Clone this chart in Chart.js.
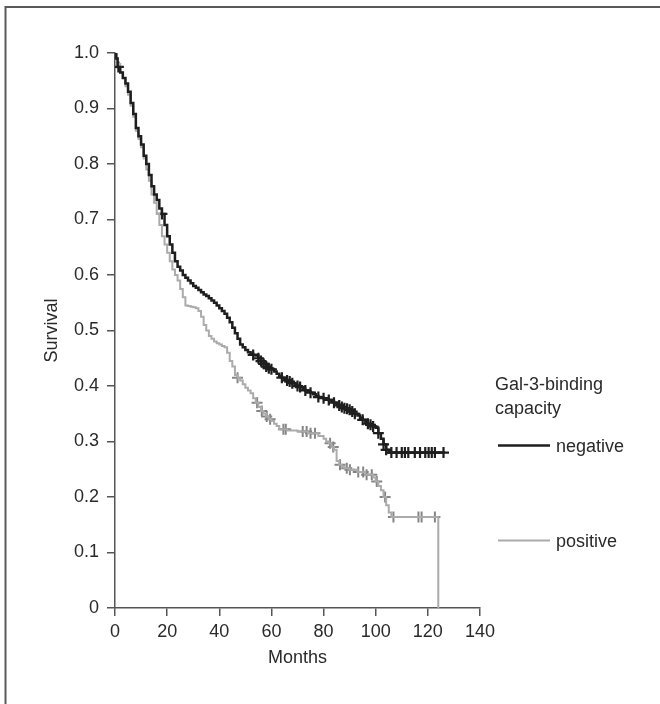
<!DOCTYPE html>
<html><head><meta charset="utf-8">
<script src="https://cdn.jsdelivr.net/npm/chart.js@4"></script>
<style>html,body{margin:0;padding:0;background:#fff}#wrap{position:relative;width:660px;height:704px}</style>
</head><body><div id="wrap"><canvas id="c" width="660" height="704"></canvas></div>
<script>
// ---- data ----
const xTickValues = [0, 20, 40, 60, 80, 100, 120, 140];
const yTickLabels = ['0', '0.1', '0.2', '0.3', '0.4', '0.5', '0.6', '0.7', '0.8', '0.9', '1.0'];
const seriesNames = ['negative', 'positive'];
const legendTitle = ['Gal-3-binding', 'capacity'];

const negMonths = [0, 0.5, 1, 2, 3, 4, 5, 6, 7, 8, 9, 10, 11, 12, 13, 14, 15, 16, 17, 18, 19, 20, 21, 22, 23, 24, 25,
  26, 27, 28, 29, 30, 31, 32, 33, 34, 35, 36, 37, 38, 39, 40, 41, 42, 43, 44, 45, 46, 47, 48, 49, 50,
  51, 52, 53, 54, 55, 56, 57, 58, 59, 60, 61, 62, 63, 64, 65, 66, 67, 68, 69, 70, 71, 72, 73, 74, 75,
  76, 77, 78, 79, 80, 81, 82, 83, 84, 85, 86, 87, 88, 89, 90, 91, 92, 93, 94, 95, 96, 97, 98, 99, 100,
  101, 102, 103, 104, 105, 126.5];
const negSurv = [1.0, 0.99, 0.975, 0.965, 0.955, 0.945, 0.93, 0.91, 0.89, 0.865, 0.85, 0.835, 0.815, 0.80, 0.78, 0.76, 0.745, 0.735, 0.72, 0.71, 0.69, 0.67, 0.655, 0.64, 0.625, 0.615, 0.608,
  0.60, 0.595, 0.59, 0.585, 0.58, 0.577, 0.573, 0.569, 0.565, 0.562, 0.558, 0.554, 0.55, 0.545, 0.54, 0.535, 0.53, 0.523, 0.515, 0.505, 0.495, 0.485, 0.475, 0.47, 0.465,
  0.461, 0.458, 0.456, 0.455, 0.45, 0.445, 0.44, 0.435, 0.432, 0.43, 0.426, 0.422, 0.418, 0.415, 0.412, 0.41, 0.408, 0.405, 0.402, 0.40, 0.398, 0.395, 0.392, 0.39, 0.388,
  0.385, 0.382, 0.38, 0.379, 0.378, 0.376, 0.375, 0.372, 0.37, 0.367, 0.365, 0.362, 0.36, 0.359, 0.357, 0.354, 0.35, 0.347, 0.343, 0.339, 0.335, 0.332, 0.33, 0.327, 0.325,
  0.315, 0.305, 0.295, 0.285, 0.28, 0.28];

const posMonths = [0, 0.5, 1, 2, 3, 4, 5, 6, 7, 8, 9, 10, 11, 12, 13, 14, 15, 16, 17, 18, 19, 20, 21, 22, 23, 24, 25, 26,
  27, 28, 29, 30, 31, 32, 33, 34, 35, 36, 37, 38, 39, 40, 41, 42, 43, 44, 45, 46, 47, 48, 49, 50,
  51, 52, 53, 54, 55, 56, 57, 58, 59, 60, 61, 62, 63, 66, 70, 74, 78, 80, 81, 82, 83, 84, 85, 86, 87, 88,
  90, 93, 96, 99, 100, 101, 102, 103, 104, 105, 106, 124];
const posSurv = [1.0, 0.99, 0.98, 0.965, 0.955, 0.94, 0.925, 0.905, 0.885, 0.86, 0.845, 0.83, 0.81, 0.79, 0.77, 0.745, 0.73, 0.71, 0.69, 0.67, 0.655, 0.64, 0.625, 0.61, 0.60, 0.59, 0.575, 0.56,
  0.545, 0.544, 0.543, 0.542, 0.54, 0.535, 0.525, 0.51, 0.50, 0.49, 0.485, 0.48, 0.477, 0.475, 0.472, 0.47, 0.46, 0.445, 0.435, 0.42, 0.415, 0.41, 0.403, 0.397,
  0.392, 0.387, 0.378, 0.37, 0.362, 0.355, 0.35, 0.345, 0.34, 0.337, 0.332, 0.328, 0.322, 0.32, 0.318, 0.315, 0.31, 0.305, 0.30, 0.297, 0.29, 0.285, 0.265, 0.258, 0.255, 0.252,
  0.249, 0.245, 0.24, 0.235, 0.228, 0.22, 0.212, 0.20, 0.185, 0.172, 0.164, 0];

const negCensorMonths = [1.3, 18, 53, 55, 56, 57, 58, 59, 60, 64, 66, 67, 68, 70, 71, 73, 75, 78, 80, 82, 84, 86, 87, 88, 89, 90, 91, 92, 95, 97, 98, 99, 101, 103, 104, 106, 108, 110, 111.2, 112.5, 115, 117, 119, 120.3, 121.5, 122.7, 126];
const posCensorMonths = [47, 54.5, 56.3, 58.2, 59.5, 64.6, 65.5, 72, 73.5, 75, 76.7, 82.5, 83.7, 86.3, 88.9, 90.1, 93.3, 95.2, 96.5, 98.5, 100.4, 103.6, 106.8, 116.4, 117.6, 122.7];

// ---- helpers ----
function toPoints(xs, ys) { return xs.map((x, i) => ({ x: x, y: ys[i] })); }
function stepValue(xs, ys, t) {
  let v = ys[0];
  for (let i = 0; i < xs.length; i++) { if (xs[i] <= t) v = ys[i]; else break; }
  return v;
}
function censorPoints(cm, xs, ys) { return cm.map(t => ({ x: t, y: stepValue(xs, ys, t) })); }

const FONT = "'Liberation Sans', Arial, Helvetica, sans-serif";
const DARK = '#1e1e1e';
const LIGHT = '#ababab';
const LIGHT_MARK = '#858585';
const AXIS = '#555555';
const TEXT = '#2a2a2a';

const framePlugin = {
  id: 'frameLegend',
  afterDraw(chart) {
    const ctx = chart.ctx;
    ctx.save();
    ctx.strokeStyle = '#5a5a5a';
    ctx.lineWidth = 2;
    ctx.beginPath();
    ctx.moveTo(5.5, 704); ctx.lineTo(5.5, 7); ctx.lineTo(660, 7);
    ctx.stroke();
    ctx.fillStyle = TEXT;
    ctx.font = '18px ' + FONT;
    ctx.textAlign = 'left';
    ctx.textBaseline = 'alphabetic';
    ctx.fillText(legendTitle[0], 495, 390);
    ctx.fillText(legendTitle[1], 495, 414);
    const ds = chart.data.datasets;
    const rows = [{ y: 445.5, base: 452, i: 0 }, { y: 540.5, base: 547, i: 1 }];
    rows.forEach(r => {
      ctx.strokeStyle = ds[r.i].borderColor;
      ctx.lineWidth = ds[r.i].borderWidth;
      ctx.beginPath(); ctx.moveTo(498, r.y); ctx.lineTo(550, r.y); ctx.stroke();
      ctx.fillText(seriesNames[r.i], 556, r.base);
    });
    ctx.restore();
  }
};

new Chart(document.getElementById('c'), {
  type: 'scatter',
  data: {
    datasets: [
      { label: seriesNames[0], data: toPoints(negMonths, negSurv), showLine: true, stepped: 'before',
        borderColor: DARK, borderWidth: 2.5, pointRadius: 0, fill: false },
      { label: seriesNames[1], data: toPoints(posMonths, posSurv), showLine: true, stepped: 'before',
        borderColor: LIGHT, borderWidth: 2, pointRadius: 0, fill: false },
      { label: 'neg censored', data: censorPoints(negCensorMonths, negMonths, negSurv), showLine: false,
        pointStyle: 'cross', pointRadius: 5.5, pointBorderWidth: 2.2, borderColor: DARK, backgroundColor: DARK },
      { label: 'pos censored', data: censorPoints(posCensorMonths, posMonths, posSurv), showLine: false,
        pointStyle: 'cross', pointRadius: 5.5, pointBorderWidth: 2, borderColor: LIGHT_MARK, backgroundColor: LIGHT_MARK }
    ]
  },
  options: {
    responsive: false,
    animation: false,
    devicePixelRatio: 1,
    layout: { padding: { left: 0, top: 53, right: 180, bottom: 0 } },
    plugins: { legend: { display: false }, tooltip: { enabled: false } },
    scales: {
      x: {
        type: 'linear', min: 0, max: 140,
        afterFit(s) { s.height = 96; },
        afterBuildTicks(s) { s.ticks = xTickValues.map(v => ({ value: v })); },
        ticks: { color: TEXT, font: { family: FONT, size: 18 }, padding: 5, maxRotation: 0,
                 callback: v => String(v) },
        grid: { drawOnChartArea: false, drawTicks: true, tickLength: 8, color: AXIS, lineWidth: 1.5 },
        border: { color: AXIS, width: 1.5 },
        title: { display: true, text: 'Months', color: TEXT, font: { family: FONT, size: 18 },
                 padding: { top: 0, bottom: 35 } }
      },
      y: {
        type: 'linear', min: 0, max: 1,
        afterFit(s) { s.width = 115; },
        afterBuildTicks(s) { s.ticks = yTickLabels.map((l, i) => ({ value: i / 10 })); },
        ticks: { color: TEXT, font: { family: FONT, size: 18 }, padding: 8,
                 callback: (v, i) => yTickLabels[i] },
        grid: { drawOnChartArea: false, drawTicks: true, tickLength: 8, color: AXIS, lineWidth: 1.5 },
        border: { color: AXIS, width: 1.5 },
        title: { display: true, text: 'Survival', color: TEXT, font: { family: FONT, size: 18 },
                 padding: { top: 41, bottom: 0 } }
      }
    }
  },
  plugins: [framePlugin]
});
</script>
</body></html>
